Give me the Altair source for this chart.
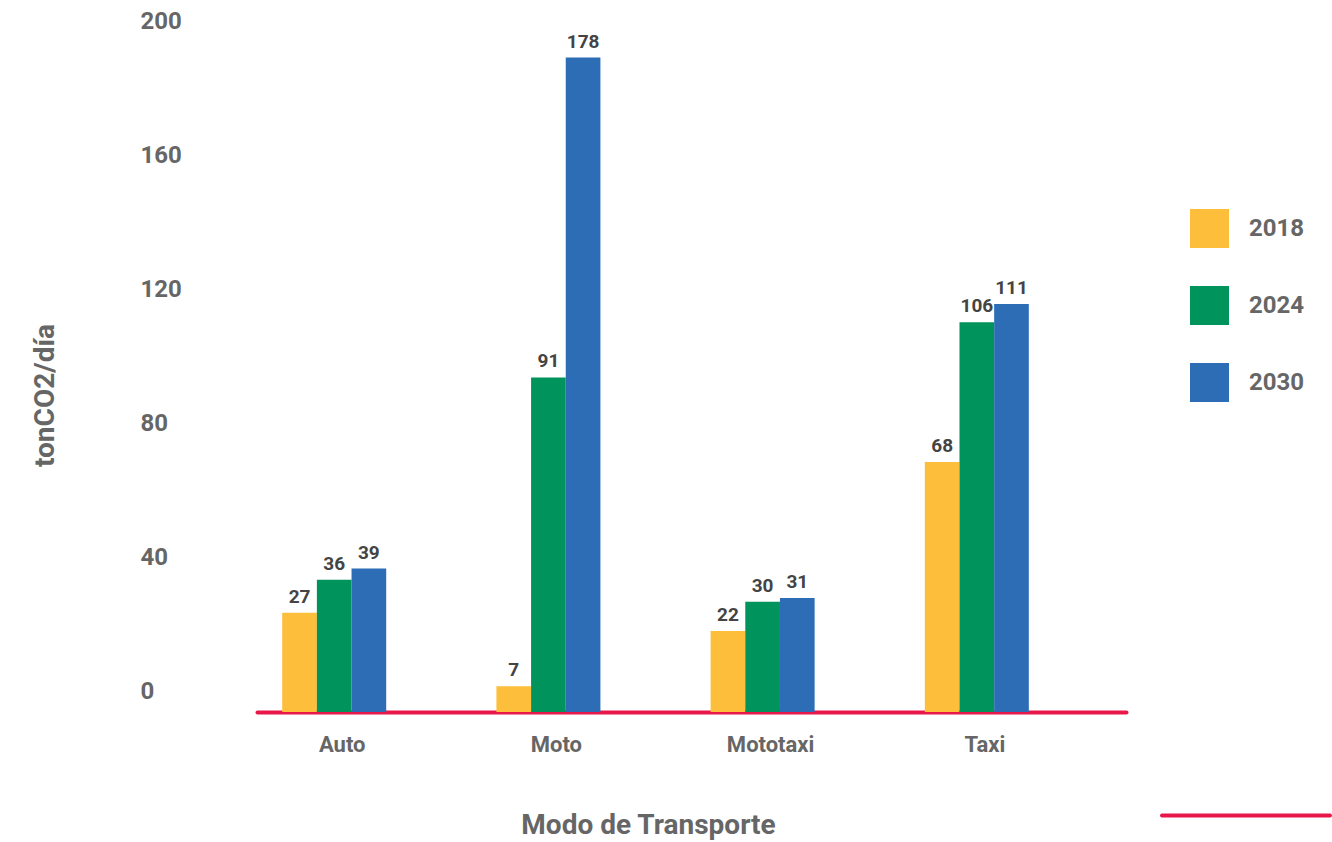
import altair as alt
import pandas as pd

# ---- data ----
categories = ["Auto", "Moto", "Mototaxi", "Taxi"]
years = ["2018", "2024", "2030"]
v2018 = [27, 7, 22, 68]
v2024 = [36, 91, 30, 106]
v2030 = [39, 178, 31, 111]
tick_values = [0, 40, 80, 120, 160, 200]
colors = ["#FDBE3B", "#00935B", "#2C6DB5"]

rows = []
for yr, vals in zip(years, [v2018, v2024, v2030]):
    for c, v in zip(categories, vals):
        rows.append({"Modo": c, "Año": yr, "valor": v})
df = pd.DataFrame(rows)
ticks_df = pd.DataFrame({"tick": tick_values})
deco_df = pd.DataFrame({"d": [0]})

FONT = "Roboto"
RED = "#E8194A"
GRAY = "#666666"
DARK = "#444444"
W, H = 869, 696
bar_domain = [0, 189.3]

x_enc = alt.X(
    "Modo:N",
    sort=categories,
    scale=alt.Scale(paddingInner=0.5145, paddingOuter=0.2857, align=0.206),
    axis=alt.Axis(
        title="Modo de Transporte",
        labelAngle=0,
        ticks=False,
        tickSize=0,
        grid=False,
        domainColor=RED,
        domainWidth=4,
        domainCap="round",
        labelPadding=22,
        labelOffset=8,
        labelFont=FONT,
        labelFontSize=22,
        labelFontWeight="bold",
        labelColor=GRAY,
        titleFont=FONT,
        titleFontSize=28,
        titleFontWeight="bold",
        titleColor=GRAY,
        titleX=391,
        titleY=121.5,
        titleBaseline="alphabetic",
        titleAlign="center",
    ),
)
xoff = alt.XOffset("Año:N", sort=years, scale=alt.Scale(paddingInner=0, paddingOuter=0))
y_bar = alt.Y("valor:Q", scale=alt.Scale(domain=bar_domain, nice=False, zero=True), axis=None)

base = alt.Chart(df)

bars = base.mark_bar().encode(
    x=x_enc,
    xOffset=xoff,
    y=y_bar,
    color=alt.Color(
        "Año:N",
        sort=years,
        scale=alt.Scale(domain=years, range=colors),
        legend=alt.Legend(
            orient="none",
            legendX=933,
            legendY=193,
            title=None,
            symbolType="square",
            symbolSize=1521,
            symbolStrokeWidth=0,
            symbolOpacity=1,
            labelOffset=20,
            rowPadding=38,
            padding=0,
            labelFont=FONT,
            labelFontSize=24,
            labelFontWeight="bold",
            labelColor=GRAY,
        ),
    ),
)

labels = base.mark_text(
    dy=-10, baseline="alphabetic", align="center",
    font=FONT, fontSize=19, fontWeight="bold", color=DARK,
).encode(
    x=alt.X("Modo:N", sort=categories),
    xOffset=xoff,
    y=y_bar,
    text=alt.Text("valor:Q"),
)

deco = alt.Chart(deco_df).mark_rule(color=RED, strokeWidth=4, strokeCap="round").encode(
    x=alt.value(905), x2=alt.value(1073), y=alt.value(799.5)
)

axis_layer = alt.Chart(ticks_df).mark_point(opacity=0, size=1).encode(
    y=alt.Y(
        "tick:Q",
        scale=alt.Scale(domain=[-6, 201.5], nice=False, zero=False),
        axis=alt.Axis(
            orient="left",
            values=tick_values,
            title="tonCO2/día",
            grid=False,
            domain=False,
            ticks=False,
            tickSize=0,
            labelAlign="left",
            labelPadding=117,
            labelFont=FONT,
            labelFontSize=24,
            labelFontWeight="bold",
            labelColor=GRAY,
            labelOverlap=False,
            labelFlush=False,
            titleFont=FONT,
            titleFontSize=28,
            titleFontWeight="bold",
            titleColor=GRAY,
            titleX=-204,
            titleY=379,
            titleAngle=-90,
            titleBaseline="alphabetic",
            titleAlign="center",
        ),
    )
)

chart = (
    alt.layer(alt.layer(bars, labels, deco), axis_layer)
    .resolve_scale(y="independent")
    .properties(
        width=W,
        height=H,
        padding={"left": 257, "top": 16, "right": 206, "bottom": 130},
        autosize=alt.AutoSizeParams(type="none"),
        background="white",
    )
    .configure_view(stroke=None)
)

chart.save("out.html", embed_options={"renderer": "svg", "actions": False})
